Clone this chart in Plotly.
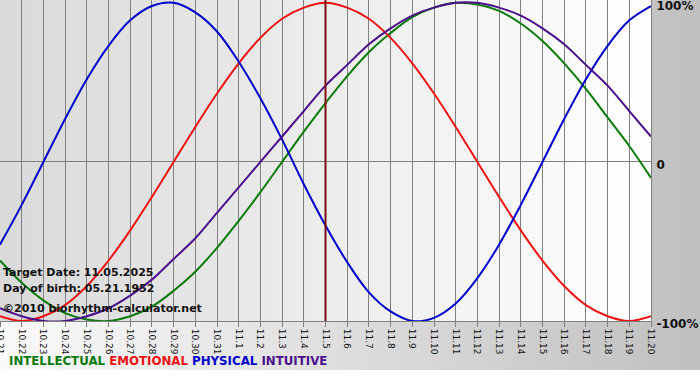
import plotly.graph_objects as go

# ---------------- data ----------------
dates = ["10.21", "10.22", "10.23", "10.24", "10.25", "10.26", "10.27", "10.28",
         "10.29", "10.30", "10.31", "11.1", "11.2", "11.3", "11.4", "11.5", "11.6",
         "11.7", "11.8", "11.9", "11.10", "11.11", "11.12", "11.13", "11.14",
         "11.15", "11.16", "11.17", "11.18", "11.19", "11.20"]

intellectual = [-0.62, -0.76, -0.87, -0.95, -0.99, -1.00, -0.97, -0.91, -0.81, -0.69,
                -0.54, -0.37, -0.19, 0.00, 0.19, 0.37, 0.54, 0.69, 0.81, 0.91,
                0.97, 1.00, 0.99, 0.95, 0.87, 0.76, 0.62, 0.46, 0.28, 0.10, -0.10]

emotional = [-0.97, -1.00, -0.97, -0.90, -0.78, -0.62, -0.43, -0.22, 0.00, 0.22,
             0.43, 0.62, 0.78, 0.90, 0.97, 1.00, 0.97, 0.90, 0.78, 0.62,
             0.43, 0.22, 0.00, -0.22, -0.43, -0.62, -0.78, -0.90, -0.97, -1.00, -0.97]

physical = [-0.52, -0.27, 0.00, 0.27, 0.52, 0.73, 0.89, 0.98, 1.00, 0.94,
            0.82, 0.63, 0.40, 0.14, -0.14, -0.40, -0.63, -0.82, -0.94, -1.00,
            -0.98, -0.89, -0.73, -0.52, -0.27, 0.00, 0.27, 0.52, 0.73, 0.89, 0.98]

intuitive = [-0.92, -0.97, -1.00, -1.00, -0.97, -0.92, -0.84, -0.74, -0.61, -0.48,
             -0.32, -0.16, 0.00, 0.16, 0.32, 0.48, 0.61, 0.74, 0.84, 0.92,
             0.97, 1.00, 1.00, 0.97, 0.92, 0.84, 0.74, 0.61, 0.48, 0.32, 0.16]

series_names = ["INTELLECTUAL", "EMOTIONAL", "PHYSICAL", "INTUITIVE"]
series_values = [intellectual, emotional, physical, intuitive]
series_colors = ["#0a7a0a", "#ee1111", "#0000cc", "#4b0f8c"]

target_date = "11.5"
info_lines = ["Target Date: 11.05.2025", "Day of birth: 05.21.1952",
              "\u00a92010 biorhythm-calculator.net"]

y_tickvals = [-1, 0, 1]
y_ticktext = ["-100%", "0", "100%"]

# ---------------- layout geometry (pixels) ----------------
W, H = 700, 380
ML, MR, MT, MB = 0, 49, 0, 59
PW, PH = W - ML - MR, H - MT - MB

def px_x(px):
    return (px - ML) / PW

def px_y(py):
    return (H - MB - py) / PH

def mix(c1, c2, t):
    return "rgb(%d,%d,%d)" % tuple(round(a + (b - a) * t) for a, b in zip(c1, c2))

shapes = []
# outer paper gradient (white -> gray), down to y=370px
N = 70
for i in range(N):
    x0 = W * i / N
    x1 = W * (i + 1) / N + 0.6
    shapes.append(dict(type="rect", xref="paper", yref="paper",
                       x0=px_x(x0), x1=px_x(x1), y0=px_y(370), y1=px_y(0),
                       fillcolor=mix((250, 250, 250), (192, 192, 192), i / (N - 1)),
                       line=dict(width=0), layer="below"))
# plot-area gradient (light gray -> white)
N2 = 65
for i in range(N2):
    x0 = PW * i / N2
    x1 = PW * (i + 1) / N2 + 0.6
    shapes.append(dict(type="rect", xref="paper", yref="paper",
                       x0=x0 / PW, x1=min(x1 / PW, 1), y0=0, y1=1,
                       fillcolor=mix((218, 218, 218), (255, 255, 255), i / (N2 - 1)),
                       line=dict(width=0), layer="below"))
# target date line (category index on the x axis)
t_idx = dates.index(target_date)
shapes.append(dict(type="line", xref="x", yref="paper", x0=t_idx, x1=t_idx,
                   y0=0, y1=1, line=dict(color="#7a1010", width=2)))

fig = go.Figure()
for name, vals, col in zip(series_names, series_values, series_colors):
    fig.add_trace(go.Scatter(x=dates, y=vals, mode="lines", name=name,
                             line=dict(color=col, width=2, shape="spline", smoothing=1.0),
                             hoverinfo="skip"))

annotations = []
for txt, py in zip(info_lines, [272, 288, 308]):
    annotations.append(dict(text="<b>%s</b>" % txt, xref="paper", yref="paper",
                            x=px_x(1), y=px_y(py), xanchor="left", yanchor="middle",
                            showarrow=False, font=dict(size=11, color="#111111")))

legend_html = "&nbsp;".join('<span style="color:%s">%s</span>' % (c, n)
                            for n, c in zip(series_names, series_colors))
annotations.append(dict(text="<b>%s</b>" % legend_html, xref="paper", yref="paper",
                        x=px_x(7), y=px_y(361), xanchor="left", yanchor="middle",
                        showarrow=False, font=dict(size=11.8)))

fig.update_layout(
    width=W, height=H,
    margin=dict(l=ML, r=MR, t=MT, b=MB, pad=0),
    paper_bgcolor="white", plot_bgcolor="rgba(0,0,0,0)",
    showlegend=False,
    font=dict(family="DejaVu Sans", color="#111111"),
    shapes=shapes, annotations=annotations,
    xaxis=dict(type="category", range=[0, len(dates) - 1], showgrid=True,
               gridcolor="#808080", gridwidth=1, ticks="outside", ticklen=5,
               tickcolor="#808080", tickangle=90, tickfont=dict(size=9, color="#111111"),
               showline=True, linecolor="#808080", mirror=True, automargin=False,
               zeroline=False, fixedrange=True),
    yaxis=dict(range=[-1.0, 1.018], side="right", tickvals=y_tickvals,
               ticktext=["<b>%s</b>" % t for t in y_ticktext],
               tickfont=dict(size=12, color="#111111"), showgrid=False,
               ticklabeloverflow="allow", ticklabelshift=3, ticklabelstandoff=2,
               zeroline=True, zerolinecolor="#808080", zerolinewidth=1,
               showline=True, linecolor="#808080", mirror=True, ticks="",
               automargin=False, fixedrange=True),
)

fig.write_html("out.html", config={"displayModeBar": False},
               post_script="document.body.style.margin='0';")
